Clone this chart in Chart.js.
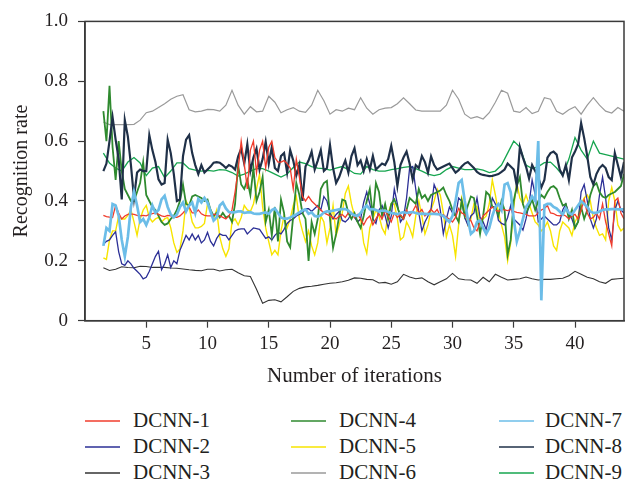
<!DOCTYPE html>
<html>
<head>
<meta charset="utf-8">
<script src="https://cdn.jsdelivr.net/npm/chart.js@4.4.1/dist/chart.umd.min.js"></script>
<style>
  html, body { margin: 0; padding: 0; background: #fff; }
  #wrap { position: relative; width: 636px; height: 483px; overflow: hidden; }
  #chart { position: absolute; left: 0; top: 0; }
  .lg-line { position: absolute; height: 2px; opacity: 0.75; }
  .lg-text { position: absolute; font: 21px "Liberation Serif", "Times New Roman", serif; color: #231f20; line-height: 24px; white-space: nowrap; }
</style>
</head>
<body>
<div id="wrap">
  <canvas id="chart" width="636" height="400"></canvas>
  <div id="legend"></div>
</div>
<script>
// iteration grid: fine series every 0.25, smoother ones every 0.5, both from 1.5 to 44
const iterStart = 1.5;
const stepFine = 0.25;
const stepCoarse = 0.5;

const xTicks = [5, 10, 15, 20, 25, 30, 35, 40];
const yTicks = [0, 0.2, 0.4, 0.6, 0.8, 1.0];

const seriesNames = ["DCNN-1", "DCNN-2", "DCNN-3", "DCNN-4", "DCNN-5", "DCNN-6", "DCNN-7", "DCNN-8", "DCNN-9"];

// DCNN-1 (step 0.25)
const dcnn1 = [
  0.352, 0.348,
  0.346, 0.345, 0.385, 0.36,
  0.34, 0.35, 0.355, 0.357,
  0.355, 0.352, 0.35, 0.352,
  0.35, 0.355, 0.358, 0.36,
  0.355, 0.35, 0.348, 0.352,
  0.35, 0.345, 0.345, 0.35,
  0.36, 0.372, 0.38, 0.36,
  0.36, 0.37, 0.357, 0.352,
  0.35, 0.35, 0.355, 0.355,
  0.35, 0.345, 0.34, 0.35,
  0.37, 0.43, 0.505, 0.60,
  0.525, 0.44, 0.57, 0.60,
  0.495, 0.57, 0.60, 0.51,
  0.58, 0.60, 0.545, 0.53,
  0.53, 0.535, 0.525, 0.51,
  0.44, 0.54, 0.48, 0.415,
  0.40, 0.415, 0.40, 0.39,
  0.38, 0.37, 0.36, 0.355,
  0.35, 0.345, 0.34, 0.35,
  0.355, 0.345, 0.36, 0.362,
  0.345, 0.355, 0.34, 0.32,
  0.34, 0.35, 0.32, 0.34,
  0.357, 0.34, 0.368, 0.35,
  0.33, 0.36, 0.345, 0.355,
  0.34, 0.37, 0.35, 0.365,
  0.385, 0.36, 0.372, 0.35,
  0.36, 0.372, 0.36, 0.372,
  0.35, 0.355, 0.345, 0.34,
  0.33, 0.345, 0.375, 0.36,
  0.355, 0.34, 0.335, 0.31,
  0.30, 0.33, 0.35, 0.36,
  0.37, 0.38, 0.37, 0.365,
  0.372, 0.37, 0.368, 0.372,
  0.365, 0.362, 0.36, 0.358,
  0.355, 0.35, 0.35, 0.35,
  0.36, 0.37, 0.375, 0.385,
  0.36, 0.358, 0.352, 0.35,
  0.355, 0.35, 0.34, 0.35,
  0.355, 0.34, 0.37, 0.405,
  0.36, 0.34, 0.345, 0.36,
  0.34, 0.39, 0.33, 0.29,
  0.25, 0.40, 0.41, 0.36,
  0.34
];

// DCNN-2 (step 0.25)
const dcnn2 = [
  0.255, 0.265,
  0.27, 0.285, 0.297, 0.23,
  0.19, 0.185, 0.20, 0.19,
  0.175, 0.165, 0.155, 0.14,
  0.145, 0.165, 0.19, 0.215,
  0.232, 0.17, 0.19, 0.22,
  0.178, 0.20, 0.19, 0.235,
  0.26, 0.285, 0.27, 0.29,
  0.27, 0.285, 0.26, 0.27,
  0.295, 0.265, 0.25, 0.275,
  0.29, 0.285, 0.285, 0.27,
  0.285, 0.30, 0.305, 0.307,
  0.307, 0.29, 0.30, 0.31,
  0.308, 0.305, 0.29, 0.275,
  0.28, 0.27, 0.285, 0.295,
  0.29, 0.305, 0.325, 0.335,
  0.34, 0.35, 0.355, 0.36,
  0.374, 0.374, 0.365, 0.375,
  0.385, 0.37, 0.415, 0.40,
  0.36, 0.34, 0.355, 0.365,
  0.335, 0.33, 0.34, 0.36,
  0.345, 0.33, 0.34, 0.395,
  0.43, 0.39, 0.34, 0.325,
  0.37, 0.385, 0.35, 0.31,
  0.35, 0.44, 0.39, 0.33,
  0.345, 0.41, 0.51, 0.515,
  0.44, 0.36, 0.30, 0.33,
  0.35, 0.375, 0.455, 0.43,
  0.37, 0.29, 0.34, 0.38,
  0.36, 0.35, 0.41, 0.40,
  0.345, 0.32, 0.35, 0.36,
  0.41, 0.345, 0.33, 0.305,
  0.35, 0.41, 0.39, 0.335,
  0.325, 0.32, 0.345, 0.385,
  0.34, 0.33, 0.32, 0.303,
  0.34, 0.39, 0.47, 0.42,
  0.33, 0.34, 0.35, 0.34,
  0.33, 0.32, 0.32, 0.33,
  0.37, 0.39, 0.36, 0.34,
  0.31, 0.33, 0.43, 0.455,
  0.40, 0.34, 0.31, 0.34,
  0.42, 0.48, 0.41, 0.31,
  0.27, 0.37, 0.40, 0.37,
  0.36
];

// DCNN-3 (step 0.5)
const dcnn3 = [
  0.177,
  0.168, 0.172,
  0.18, 0.178,
  0.177, 0.182,
  0.181, 0.178,
  0.178, 0.178,
  0.176, 0.175,
  0.173, 0.17,
  0.168, 0.167,
  0.172, 0.172,
  0.166, 0.17,
  0.172, 0.16,
  0.15, 0.148,
  0.105, 0.058,
  0.068, 0.07,
  0.063, 0.08,
  0.098, 0.108,
  0.113, 0.115,
  0.118, 0.122,
  0.125, 0.127,
  0.13, 0.135,
  0.143, 0.142,
  0.138, 0.137,
  0.126, 0.128,
  0.122, 0.13,
  0.155, 0.146,
  0.14, 0.143,
  0.13, 0.12,
  0.13, 0.14,
  0.158, 0.14,
  0.137, 0.136,
  0.125, 0.145,
  0.13, 0.155,
  0.145, 0.136,
  0.138, 0.14,
  0.146, 0.14,
  0.136, 0.138,
  0.138, 0.14,
  0.142, 0.15,
  0.165, 0.155,
  0.145, 0.14,
  0.13, 0.125,
  0.138, 0.14,
  0.142
];

// DCNN-4 (step 0.25)
const dcnn4 = [
  0.70, 0.60,
  0.785, 0.58, 0.47, 0.60,
  0.50, 0.44, 0.42, 0.40,
  0.40, 0.43, 0.46, 0.53,
  0.42, 0.40, 0.38, 0.37,
  0.35, 0.33, 0.32, 0.325,
  0.34, 0.35, 0.37, 0.40,
  0.455, 0.39, 0.385, 0.415,
  0.42, 0.415, 0.41, 0.40,
  0.405, 0.37, 0.35, 0.36,
  0.345, 0.36, 0.345, 0.35,
  0.33, 0.39, 0.52, 0.455,
  0.44, 0.47, 0.42, 0.51,
  0.40, 0.43, 0.48, 0.33,
  0.37, 0.285, 0.38, 0.265,
  0.405, 0.36, 0.265, 0.245,
  0.35, 0.46, 0.42, 0.36,
  0.34, 0.20, 0.33, 0.29,
  0.34, 0.44, 0.46, 0.467,
  0.34, 0.243, 0.29, 0.35,
  0.405, 0.40, 0.36, 0.34,
  0.36, 0.33, 0.31, 0.35,
  0.40, 0.44, 0.35, 0.46,
  0.43, 0.35, 0.39, 0.34,
  0.39, 0.405, 0.38, 0.35,
  0.34, 0.37, 0.41, 0.40,
  0.39, 0.44, 0.41, 0.42,
  0.40, 0.42, 0.425, 0.43,
  0.435, 0.445, 0.42, 0.40,
  0.37, 0.35, 0.33, 0.40,
  0.35, 0.385, 0.415, 0.41,
  0.35, 0.29, 0.35, 0.43,
  0.42, 0.38, 0.38, 0.35,
  0.40, 0.37, 0.22, 0.27,
  0.40, 0.45, 0.48, 0.39,
  0.36, 0.38, 0.405, 0.37,
  0.40, 0.42, 0.41, 0.43,
  0.445, 0.45, 0.44, 0.41,
  0.385, 0.39, 0.34, 0.37,
  0.31, 0.33, 0.38, 0.34,
  0.37, 0.42, 0.45, 0.46,
  0.43, 0.415, 0.41, 0.42,
  0.425, 0.43, 0.44, 0.45,
  0.49
];

// DCNN-5 (step 0.25)
const dcnn5 = [
  0.21, 0.205,
  0.27, 0.30, 0.30, 0.35,
  0.34, 0.34, 0.352, 0.37,
  0.33, 0.285, 0.34, 0.37,
  0.385, 0.345, 0.33, 0.34,
  0.345, 0.33, 0.34, 0.345,
  0.31, 0.26, 0.228, 0.24,
  0.30, 0.40, 0.38, 0.33,
  0.31, 0.31, 0.315, 0.325,
  0.39, 0.37, 0.34, 0.37,
  0.28, 0.24, 0.215, 0.24,
  0.33, 0.34, 0.32, 0.345,
  0.385, 0.37, 0.365, 0.39,
  0.44, 0.49, 0.38, 0.31,
  0.264, 0.22, 0.235, 0.22,
  0.30, 0.35, 0.31, 0.34,
  0.385, 0.415, 0.34, 0.30,
  0.265, 0.30, 0.25, 0.22,
  0.26, 0.35, 0.33, 0.26,
  0.31, 0.385, 0.285, 0.32,
  0.36, 0.425, 0.45, 0.39,
  0.35, 0.33, 0.34, 0.26,
  0.225, 0.31, 0.34, 0.37,
  0.35, 0.31, 0.29, 0.36,
  0.39, 0.39, 0.34, 0.27,
  0.28, 0.33, 0.31, 0.28,
  0.35, 0.40, 0.35, 0.29,
  0.32, 0.37, 0.40, 0.44,
  0.42, 0.36, 0.28, 0.32,
  0.285, 0.215, 0.32, 0.41,
  0.37, 0.32, 0.34, 0.39,
  0.38, 0.33, 0.34, 0.35,
  0.39, 0.47, 0.42, 0.36,
  0.32, 0.28, 0.20, 0.26,
  0.38, 0.46, 0.41, 0.39,
  0.42, 0.39, 0.36, 0.33,
  0.32, 0.30, 0.31, 0.33,
  0.30, 0.25, 0.235, 0.30,
  0.33, 0.32, 0.31, 0.285,
  0.33, 0.35, 0.39, 0.41,
  0.42, 0.40, 0.34, 0.31,
  0.285, 0.29, 0.27, 0.40,
  0.445, 0.40, 0.32, 0.30,
  0.31
];

// DCNN-6 (step 0.5)
const dcnn6 = [
  0.664,
  0.655, 0.655,
  0.655, 0.655,
  0.656, 0.67,
  0.695, 0.70,
  0.712, 0.725,
  0.74, 0.75,
  0.755, 0.705,
  0.698, 0.70,
  0.706, 0.705,
  0.70, 0.72,
  0.77, 0.72,
  0.69, 0.715,
  0.698, 0.70,
  0.75, 0.73,
  0.695, 0.705,
  0.712, 0.70,
  0.696, 0.72,
  0.77, 0.735,
  0.69, 0.705,
  0.70, 0.71,
  0.705, 0.745,
  0.71, 0.69,
  0.705, 0.71,
  0.712, 0.725,
  0.745, 0.725,
  0.704, 0.70,
  0.70, 0.70,
  0.70, 0.72,
  0.77, 0.74,
  0.69, 0.676,
  0.682, 0.674,
  0.695, 0.73,
  0.77, 0.76,
  0.70, 0.696,
  0.712, 0.692,
  0.70, 0.745,
  0.74, 0.70,
  0.69, 0.705,
  0.715, 0.69,
  0.72, 0.745,
  0.72, 0.70,
  0.694, 0.712,
  0.70
];

// DCNN-7 (step 0.25)
const dcnn7 = [
  0.25, 0.31,
  0.30, 0.39, 0.385, 0.35,
  0.27, 0.215, 0.28, 0.38,
  0.43, 0.385, 0.33, 0.34,
  0.32, 0.345, 0.385, 0.36,
  0.37, 0.405, 0.417, 0.38,
  0.355, 0.345, 0.355, 0.38,
  0.395, 0.365, 0.385, 0.395,
  0.36, 0.407, 0.395, 0.41,
  0.395, 0.365, 0.335, 0.345,
  0.385, 0.395, 0.375, 0.363,
  0.362, 0.363, 0.365, 0.365,
  0.36, 0.362, 0.363, 0.358,
  0.357, 0.357, 0.36, 0.362,
  0.357, 0.37, 0.375, 0.36,
  0.345, 0.341, 0.341, 0.345,
  0.35, 0.355, 0.362, 0.368,
  0.372, 0.357, 0.362, 0.35,
  0.348, 0.352, 0.362, 0.365,
  0.365, 0.368, 0.37, 0.372,
  0.373, 0.373, 0.368, 0.358,
  0.352, 0.35, 0.36, 0.375,
  0.385, 0.372, 0.373, 0.37,
  0.365, 0.368, 0.367, 0.363,
  0.36, 0.358, 0.356, 0.36,
  0.363, 0.36, 0.362, 0.363,
  0.36, 0.357, 0.358, 0.357,
  0.356, 0.357, 0.357, 0.356,
  0.355, 0.35, 0.34, 0.33,
  0.35, 0.40, 0.46, 0.47,
  0.40, 0.34, 0.29, 0.30,
  0.33, 0.335, 0.31, 0.29,
  0.31, 0.35, 0.38, 0.39,
  0.37, 0.455, 0.46, 0.43,
  0.34, 0.265, 0.30, 0.34,
  0.38, 0.395, 0.415, 0.40,
  0.60, 0.068, 0.385, 0.39,
  0.39, 0.38, 0.375, 0.365,
  0.355, 0.375, 0.36, 0.355,
  0.37, 0.385, 0.40, 0.39,
  0.38, 0.365, 0.36, 0.36,
  0.365, 0.37, 0.372, 0.372,
  0.373, 0.373, 0.372, 0.372,
  0.372
];

// DCNN-8 (step 0.25)
const dcnn8 = [
  0.50, 0.525,
  0.60, 0.68, 0.605, 0.54,
  0.405, 0.67, 0.615, 0.52,
  0.41, 0.495, 0.505, 0.50,
  0.50, 0.62, 0.57, 0.53,
  0.472, 0.455, 0.46, 0.605,
  0.56, 0.49, 0.40, 0.405,
  0.55, 0.605, 0.62, 0.56,
  0.52, 0.49, 0.52, 0.495,
  0.505, 0.515, 0.528, 0.53,
  0.528, 0.52, 0.51, 0.52,
  0.515, 0.505, 0.548, 0.575,
  0.525, 0.59, 0.50, 0.545,
  0.575, 0.505, 0.54, 0.598,
  0.525, 0.58, 0.51, 0.50,
  0.55, 0.56, 0.495, 0.57,
  0.535, 0.485, 0.52, 0.40,
  0.515, 0.535, 0.565, 0.505,
  0.535, 0.57, 0.50, 0.51,
  0.587, 0.51, 0.46, 0.48,
  0.51, 0.535, 0.495, 0.55,
  0.576, 0.52, 0.535, 0.50,
  0.54, 0.505, 0.55, 0.505,
  0.515, 0.525, 0.52, 0.54,
  0.584, 0.53, 0.45, 0.52,
  0.545, 0.565, 0.525, 0.472,
  0.52, 0.51, 0.55, 0.53,
  0.495, 0.549, 0.52, 0.505,
  0.51, 0.515, 0.52, 0.525,
  0.51, 0.495, 0.503, 0.515,
  0.525, 0.53, 0.52, 0.51,
  0.497, 0.49, 0.487, 0.485,
  0.483, 0.484, 0.487, 0.49,
  0.497, 0.505, 0.525, 0.515,
  0.505, 0.45, 0.58, 0.545,
  0.515, 0.475, 0.52, 0.50,
  0.48, 0.445, 0.47, 0.545,
  0.56, 0.565, 0.555, 0.505,
  0.485, 0.52, 0.47, 0.545,
  0.565, 0.59, 0.66, 0.61,
  0.55, 0.48, 0.455, 0.49,
  0.51, 0.52, 0.51, 0.48,
  0.47, 0.56, 0.52, 0.48,
  0.53
];

// DCNN-9 (step 0.5)
const dcnn9 = [
  0.56,
  0.527, 0.51,
  0.50, 0.53,
  0.545, 0.527,
  0.485, 0.51,
  0.515, 0.478,
  0.50, 0.527,
  0.527, 0.508,
  0.503, 0.50,
  0.502, 0.50,
  0.505, 0.503,
  0.495, 0.483,
  0.49, 0.50,
  0.508, 0.508,
  0.50, 0.49,
  0.48, 0.49,
  0.512, 0.53,
  0.525, 0.515,
  0.51, 0.508,
  0.503, 0.51,
  0.515, 0.505,
  0.492, 0.49,
  0.515, 0.505,
  0.50, 0.50,
  0.505, 0.508,
  0.512, 0.515,
  0.508, 0.50,
  0.49, 0.485,
  0.49, 0.505,
  0.515, 0.51,
  0.505, 0.505,
  0.507, 0.503,
  0.495, 0.50,
  0.52, 0.56,
  0.60, 0.58,
  0.52, 0.508,
  0.515, 0.528,
  0.53, 0.51,
  0.485, 0.54,
  0.612, 0.57,
  0.54, 0.60,
  0.56, 0.555,
  0.55, 0.545,
  0.54
];

// ---- styles ----
const seriesStyle = [
  { color: "#f03c2c", width: 1.3, step: stepFine, order: 2 },   // DCNN-1
  { color: "#2b2f96", width: 1.3, step: stepFine, order: 5 },   // DCNN-2
  { color: "#333333", width: 1.1, step: stepCoarse, order: 9 }, // DCNN-3
  { color: "#2f8a2f", width: 1.8, step: stepFine, order: 4 },   // DCNN-4
  { color: "#f7e400", width: 1.4, step: stepFine, order: 6 },   // DCNN-5
  { color: "#9a9a9a", width: 1.2, step: stepCoarse, order: 8 }, // DCNN-6
  { color: "#6cbde8", width: 2.7, step: stepFine, order: 1 },   // DCNN-7
  { color: "#1f3048", width: 2.2, step: stepFine, order: 3 },   // DCNN-8
  { color: "#16a54f", width: 1.3, step: stepCoarse, order: 7 }, // DCNN-9
];

const allSeries = [dcnn1, dcnn2, dcnn3, dcnn4, dcnn5, dcnn6, dcnn7, dcnn8, dcnn9];

function toPoints(values, step) {
  return values.map((v, i) => ({ x: iterStart + i * step, y: v }));
}

const serif = '"Liberation Serif", "Times New Roman", serif';
Chart.defaults.font.family = serif;
Chart.defaults.color = "#231f20";

const datasets = allSeries.map((vals, i) => ({
  label: seriesNames[i],
  data: toPoints(vals, seriesStyle[i].step),
  borderColor: seriesStyle[i].color,
  backgroundColor: seriesStyle[i].color,
  borderWidth: seriesStyle[i].width,
  pointRadius: 0,
  tension: 0,
  fill: false,
  order: seriesStyle[i].order,
}));

const framePlugin = {
  id: "frame",
  afterDraw(chart) {
    const { ctx, chartArea: a } = chart;
    ctx.save();
    ctx.strokeStyle = "#3a3a3a";
    ctx.lineWidth = 1.5;
    ctx.strokeRect(a.left, a.top, a.right - a.left, a.bottom - a.top);
    ctx.restore();
  },
};

new Chart(document.getElementById("chart"), {
  type: "line",
  data: { datasets },
  options: {
    responsive: false,
    animation: false,
    layout: { padding: { left: 0, right: 12, top: 16, bottom: 0 } },
    plugins: { legend: { display: false }, tooltip: { enabled: false } },
    scales: {
      x: {
        type: "linear",
        min: 0,
        max: 44,
        afterBuildTicks: (s) => { s.ticks = xTicks.map(v => ({ value: v })); },
        ticks: { font: { size: 19 }, padding: 5, maxRotation: 0 },
        grid: { drawOnChartArea: false, tickLength: 7, color: "#3a3a3a", tickWidth: 1.2 },
        border: { color: "#3a3a3a", width: 1.5 },
        title: { display: true, text: "Number of iterations", font: { size: 21 }, padding: { top: 0, bottom: 11 } },
        afterFit: (s) => { s.height = 79.3; },
      },
      y: {
        min: 0,
        max: 1,
        afterBuildTicks: (s) => { s.ticks = yTicks.map(v => ({ value: v })); },
        ticks: {
          font: { size: 19 },
          padding: 10,
          callback: (v) => (v === 0 ? "0" : Number(v).toFixed(1)),
        },
        grid: { drawOnChartArea: false, tickLength: 7, color: "#3a3a3a", tickWidth: 1.2 },
        border: { color: "#3a3a3a", width: 1.5 },
        title: { display: true, text: "Recognition rate", font: { size: 20 }, padding: { top: 10, bottom: 0 } },
        afterFit: (s) => { s.width = 85; },
      },
    },
  },
  plugins: [framePlugin],
});

// ---- legend: 3 columns, filled column by column ----
const legendCols = [{ line: 85, text: 133 }, { line: 291, text: 339 }, { line: 499, text: 545 }];
const legendRows = [421, 447, 473];
const legendBox = document.getElementById("legend");
seriesNames.forEach((name, i) => {
  const col = legendCols[Math.floor(i / 3)];
  const rowY = legendRows[i % 3];
  const line = document.createElement("div");
  line.className = "lg-line";
  line.style.left = col.line + "px";
  line.style.top = (rowY - 1) + "px";
  line.style.width = "35px";
  line.style.background = seriesStyle[i].color;
  legendBox.appendChild(line);

  const txt = document.createElement("div");
  txt.className = "lg-text";
  txt.style.left = col.text + "px";
  txt.style.top = (rowY - 13) + "px";
  txt.textContent = name;
  legendBox.appendChild(txt);
});
</script>
</body>
</html>
